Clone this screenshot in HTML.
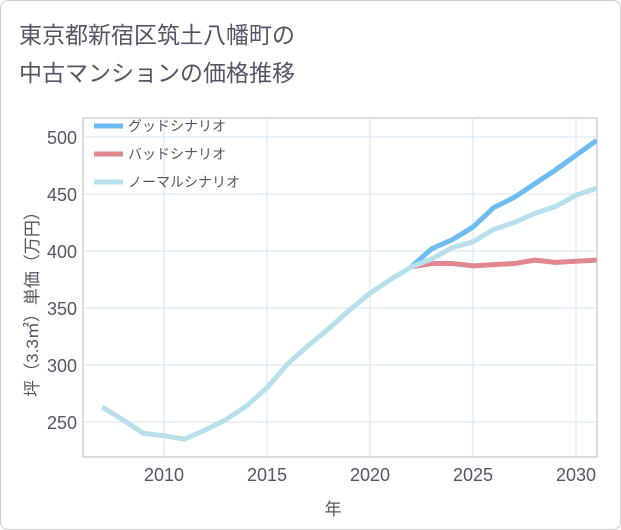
<!DOCTYPE html>
<html><head><meta charset="utf-8"><style>
body{margin:0;background:#fff;font-family:"Liberation Sans","Noto Sans CJK JP",sans-serif}
#wrap{position:relative;width:619px;height:528px;border:1px solid #ccc;border-radius:8px;overflow:hidden}
.t{position:absolute;left:18px;font-size:23px;color:#556}
</style></head><body>
<div id="wrap">
<div class="t" style="top:15px">東京都新宿区筑土八幡町の</div>
<div class="t" style="top:53px">中古マンションの価格推移</div>
<svg id="c" width="621" height="530" style="position:absolute;left:-1px;top:-1px"></svg>
</div>
<script>
const years=[2007,2008,2009,2010,2011,2012,2013,2014,2015,2016,2017,2018,2019,2020,2021,2022,2023,2024,2025,2026,2027,2028,2029,2030,2031];
const normal=[263,252,240,238,235,243,252,264,280,301,317,332,348,363,375,386,393,403,408,419,425,433,439,449,455];
const fYears=[2022,2023,2024,2025,2026,2027,2028,2029,2030,2031];
const good=[386,402,410,421,438,447,459,471,484,497];
const bad=[386,389,389,387,388,389,392,390,391,392];
const xTicks=[2010,2015,2020,2025,2030];
const yTicks=[250,300,350,400,450,500];
const X=y=>164+(y-2010)*20.6, Y=v=>137+(500-v)*1.14;
const L=83,R=597,T=118,B=457;
const s=document.getElementById('c');const NS='http://www.w3.org/2000/svg';
function el(t,a,txt){const e=document.createElementNS(NS,t);for(const k in a)e.setAttribute(k,a[k]);if(txt!=null)e.textContent=txt;s.appendChild(e);return e;}
let e=el('rect',{x:L,y:T,width:R-L,height:B-T,fill:'none',stroke:'#bbb'});


xTicks.forEach(v=>{let g=el('line',{x1:X(v),x2:X(v),y1:T,y2:B,stroke:'#d3e6f0'});


let t=el('text',{x:X(v),y:B+24,'text-anchor':'middle','font-size':18,fill:'#556'},v);

});
yTicks.forEach(v=>{let g=el('line',{x1:L,x2:R,y1:Y(v),y2:Y(v),stroke:'#d3e6f0'});


let t=el('text',{x:L-6,y:Y(v)+7,'text-anchor':'end','font-size':18,fill:'#556'},v);

});
let xt=el('text',{x:333,y:515,'text-anchor':'middle','font-size':17,fill:'#556'},'年');


let yt=el('text',{x:0,y:0,transform:'translate(38,300) rotate(-90)','text-anchor':'middle','font-size':17,fill:'#556'},'坪（3.3㎡）単価（万円）');


function line(xs,vs,c,n){let p=el('polyline',{points:xs.map((x,i)=>X(x)+','+Y(vs[i])).join(' '),fill:'none',stroke:c,'stroke-width':5,'stroke-linejoin':'round'});

}
const cl=document.createElementNS(NS,'clipPath');cl.id='cp';const cr=document.createElementNS(NS,'rect');cr.setAttribute('x',L);cr.setAttribute('y',T);cr.setAttribute('width',R-L);cr.setAttribute('height',B-T);cl.appendChild(cr);s.appendChild(cl);
line(fYears,bad,'#e0878f','bad-scenario-line');
line(fYears,good,'#6cbcf2','good-scenario-line');
line(years,normal,'#b9dfec','normal-scenario-line');
s.querySelectorAll('polyline').forEach(p=>p.setAttribute('clip-path','url(#cp)'));
[['グッドシナリオ','#6cbcf2',126],['バッドシナリオ','#e0878f',154],['ノーマルシナリオ','#b9dfec',182]].forEach(([n,c,y])=>{
let l=el('line',{x1:94,x2:123,y1:y,y2:y,stroke:c,'stroke-width':5});


let t=el('text',{x:128,y:y+5,'font-size':14,fill:'#556'},n);

});
</script>
</body></html>
